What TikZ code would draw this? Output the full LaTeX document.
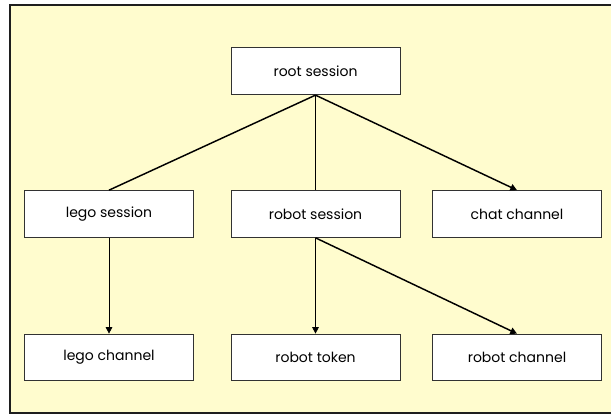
\documentclass[tikz,border=0pt]{standalone}
\usepackage{fontspec}
\setmainfont{Poppins}
\usetikzlibrary{arrows.meta}
\definecolor{paper}{RGB}{255,252,206}
\definecolor{rim}{RGB}{30,30,30}
\definecolor{boxline}{RGB}{50,50,50}
\begin{document}
\begin{tikzpicture}[x=0.75pt,y=-0.75pt,
  box/.style={draw=boxline, line width=0.75pt, fill=white,
    minimum width=126.75pt, minimum height=35pt, inner sep=0pt,
    font=\fontsize{10.5}{12}\selectfont},
  thinlink/.style={draw=black, line width=0.6pt},
  thicklink/.style={draw=black, line width=1.1pt},
  tip/.style={-{Triangle[length=5pt,width=5pt]}}]
  \useasboundingbox (0,0) rectangle (611,414);
  \fill[white] (0,0) rectangle (611,414);
  \begin{scope}
    \clip (0,0) rectangle (611,414);
    \draw[rim, line width=1.5pt, fill=paper] (9.5,4.5) rectangle (625,412.5);
  \end{scope}

  % tree of sessions and channels
  \node[box] (root)    at (315.5,71.3) {root session};
  \node[box] (lego)    at (109,214)    {lego session};
  \node[box] (robot)   at (315.5,214)  {robot session};
  \node[box] (chat)    at (517,214)    {chat channel};
  \node[box] (legoch)  at (109,357.5)  {lego channel};
  \node[box] (token)   at (315.5,357.5){robot token};
  \node[box] (robotch) at (517,357.5)  {robot channel};

  \draw[thicklink] (root.south) -- (lego.north);
  \draw[thinlink]  (root.south) -- (robot.north);
  \draw[thicklink, tip] (root.south) -- (chat.north);
  \draw[thinlink, tip]  (lego.south) -- (legoch.north);
  \draw[thinlink, tip]  (robot.south) -- (token.north);
  \draw[thicklink, tip] (robot.south) -- (robotch.north);
\end{tikzpicture}
\end{document}
